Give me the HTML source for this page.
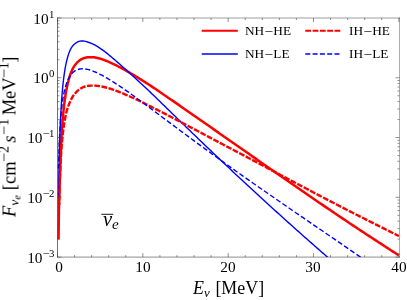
<!DOCTYPE html>
<html><head><meta charset="utf-8"><title>plot</title>
<style>
html,body{margin:0;padding:0;background:#fff;}
body{width:407px;height:300px;position:relative;overflow:hidden;font-family:"Liberation Serif",serif;color:#000;}
.t{position:absolute;white-space:nowrap;line-height:1;will-change:transform;}
.yt{font-size:15.3px;text-align:right;width:60px;}
.yt sup{font-size:10.8px;vertical-align:baseline;position:relative;top:-5.6px;left:0.3px;line-height:0;}
.xt{font-size:15.3px;text-align:center;width:40px;}
.lg{font-size:13.3px;}
.lg i{font-style:normal;margin:0 1.05px 0 0.6px;display:inline-block;transform:translateY(0.8px) scaleX(1.16);}
.m{display:inline-block;transform:scaleX(1.16);}
</style></head><body>
<svg width="407" height="300" viewBox="0 0 407 300" style="position:absolute;left:0;top:0">
<defs><clipPath id="c"><rect x="56.90" y="18.00" width="342.60" height="239.10"/></clipPath></defs>
<g stroke="#383838" fill="none" stroke-linecap="square">
<path d="M57.50,18.00V257.10" stroke-width="0.72"/>
<path d="M399.50,18.00V257.10" stroke-width="0.42"/>
<path d="M57.50,18.00H399.50" stroke-width="0.5"/>
<path d="M57.50,257.10H399.50" stroke-width="0.58"/>
</g>
<g clip-path="url(#c)" fill="none" stroke-linejoin="round">
<path d="M58.55,239.49 L58.57,237.37 L58.60,235.26 L58.62,233.15 L58.65,231.05 L58.67,228.95 L58.70,226.86 L58.73,224.78 L58.76,222.70 L58.79,220.63 L58.82,218.57 L58.85,216.51 L58.88,214.47 L58.91,212.42 L58.94,210.39 L58.98,208.36 L59.02,206.34 L59.06,204.33 L59.11,202.33 L59.16,200.33 L59.21,198.34 L59.27,196.36 L59.33,194.38 L59.39,192.42 L59.45,190.46 L59.51,188.51 L59.57,186.57 L59.64,184.64 L59.70,182.71 L59.77,180.79 L59.83,178.89 L59.89,176.99 L59.96,175.10 L60.02,173.22 L60.08,171.35 L60.14,169.49 L60.19,167.63 L60.26,165.79 L60.32,163.96 L60.38,162.13 L60.45,160.32 L60.51,158.52 L60.58,156.72 L60.65,154.94 L60.73,153.16 L60.80,151.40 L60.88,149.65 L60.96,147.91 L61.04,146.18 L61.12,144.46 L61.20,142.75 L61.29,141.05 L61.38,139.36 L61.47,137.69 L61.57,136.03 L61.66,134.37 L61.76,132.74 L61.87,131.11 L61.97,129.49 L62.08,127.89 L62.19,126.30 L62.30,124.72 L62.42,123.16 L62.54,121.61 L62.66,120.07 L62.79,118.54 L62.91,117.03 L63.05,115.53 L63.18,114.05 L63.32,112.58 L63.47,111.12 L63.61,109.68 L63.76,108.25 L63.92,106.83 L64.08,105.44 L64.24,104.05 L64.41,102.68 L64.58,101.36 L64.76,100.05 L64.94,98.76 L65.12,97.48 L65.31,96.22 L65.51,94.98 L65.71,93.76 L65.92,92.55 L66.13,91.36 L66.34,90.19 L66.57,89.03 L66.80,87.90 L67.03,86.78 L67.27,85.68 L67.52,84.61 L67.76,83.55 L68.01,82.51 L68.27,81.48 L68.52,80.48 L68.79,79.50 L69.05,78.54 L69.33,77.60 L69.61,76.69 L69.90,75.79 L70.19,74.91 L70.50,74.02 L70.82,73.15 L71.14,72.30 L71.48,71.47 L71.82,70.66 L72.18,69.88 L72.55,69.12 L72.93,68.37 L73.32,67.66 L73.73,66.96 L74.15,66.29 L74.58,65.64 L75.65,64.21 L76.73,62.94 L77.82,61.83 L78.90,60.88 L79.99,60.07 L81.07,59.39 L82.16,58.82 L83.24,58.35 L84.33,57.97 L85.41,57.67 L86.50,57.44 L87.58,57.28 L88.66,57.19 L89.75,57.14 L90.83,57.13 L91.92,57.16 L93.00,57.23 L94.09,57.34 L95.17,57.49 L96.26,57.68 L97.34,57.92 L98.42,58.19 L99.51,58.49 L100.59,58.81 L101.68,59.16 L102.76,59.53 L103.85,59.92 L104.93,60.33 L106.02,60.76 L107.10,61.20 L108.18,61.65 L109.27,62.11 L110.35,62.58 L111.44,63.07 L112.52,63.57 L113.61,64.09 L114.69,64.61 L115.78,65.15 L116.86,65.69 L117.94,66.25 L119.03,66.81 L120.11,67.38 L121.20,67.96 L122.28,68.54 L123.37,69.14 L124.45,69.74 L125.54,70.34 L126.62,70.95 L127.70,71.57 L128.79,72.20 L129.87,72.83 L130.96,73.46 L132.04,74.10 L133.13,74.75 L134.21,75.41 L135.30,76.07 L136.38,76.74 L137.46,77.40 L138.55,78.08 L139.63,78.75 L140.72,79.43 L141.80,80.11 L142.89,80.80 L143.97,81.49 L145.06,82.18 L146.14,82.87 L147.22,83.57 L148.31,84.26 L149.39,84.96 L150.48,85.67 L151.56,86.40 L152.65,87.12 L153.73,87.85 L154.82,88.57 L155.90,89.30 L156.99,90.04 L158.07,90.77 L159.15,91.50 L160.24,92.24 L161.32,92.97 L162.41,93.71 L163.49,94.45 L164.58,95.19 L165.66,95.93 L166.75,96.68 L167.83,97.42 L168.91,98.17 L170.00,98.91 L171.08,99.66 L172.17,100.40 L173.25,101.15 L174.34,101.90 L175.42,102.65 L176.51,103.40 L177.59,104.15 L178.67,104.90 L179.76,105.65 L180.84,106.41 L181.93,107.16 L183.01,107.91 L184.10,108.67 L185.18,109.42 L186.27,110.17 L187.35,110.93 L188.43,111.68 L189.52,112.44 L190.60,113.20 L191.69,113.95 L192.77,114.71 L193.86,115.46 L194.94,116.22 L196.03,116.98 L197.11,117.74 L198.19,118.49 L199.28,119.25 L200.36,120.01 L201.45,120.77 L202.53,121.52 L203.62,122.28 L204.70,123.04 L205.79,123.80 L206.87,124.56 L207.95,125.31 L209.04,126.07 L210.12,126.83 L211.21,127.59 L212.29,128.35 L213.38,129.11 L214.46,129.86 L215.55,130.62 L216.63,131.38 L217.71,132.14 L218.80,132.90 L219.88,133.66 L220.97,134.41 L222.05,135.17 L223.14,135.93 L224.22,136.69 L225.31,137.44 L226.39,138.20 L227.48,138.96 L228.56,139.72 L229.64,140.47 L230.73,141.23 L231.81,141.99 L232.90,142.74 L233.98,143.50 L235.07,144.26 L236.15,145.01 L237.24,145.77 L238.32,146.52 L239.40,147.28 L240.49,148.03 L241.57,148.79 L242.66,149.54 L243.74,150.30 L244.83,151.05 L245.91,151.81 L247.00,152.56 L248.08,153.32 L249.16,154.07 L250.25,154.83 L251.33,155.59 L252.42,156.35 L253.50,157.11 L254.59,157.87 L255.67,158.63 L256.76,159.39 L257.84,160.15 L258.92,160.91 L260.01,161.67 L261.09,162.42 L262.18,163.18 L263.26,163.94 L264.35,164.70 L265.43,165.46 L266.52,166.21 L267.60,166.97 L268.68,167.73 L269.77,168.48 L270.85,169.24 L271.94,170.00 L273.02,170.75 L274.11,171.51 L275.19,172.26 L276.28,173.02 L277.36,173.77 L278.44,174.52 L279.53,175.28 L280.61,176.03 L281.70,176.78 L282.78,177.54 L283.87,178.29 L284.95,179.04 L286.04,179.79 L287.12,180.55 L288.20,181.30 L289.29,182.05 L290.37,182.80 L291.46,183.55 L292.54,184.30 L293.63,185.05 L294.71,185.80 L295.80,186.54 L296.88,187.29 L297.97,188.04 L299.05,188.79 L300.13,189.54 L301.22,190.28 L302.30,191.03 L303.39,191.78 L304.47,192.52 L305.56,193.27 L306.64,194.01 L307.73,194.76 L308.81,195.50 L309.89,196.25 L310.98,196.99 L312.06,197.73 L313.15,198.48 L314.23,199.22 L315.32,199.96 L316.40,200.70 L317.49,201.44 L318.57,202.18 L319.65,202.92 L320.74,203.66 L321.82,204.40 L322.91,205.14 L323.99,205.88 L325.08,206.62 L326.16,207.36 L327.25,208.09 L328.33,208.83 L329.41,209.57 L330.50,210.30 L331.58,211.04 L332.67,211.77 L333.75,212.51 L334.84,213.24 L335.92,213.98 L337.01,214.71 L338.09,215.44 L339.17,216.18 L340.26,216.91 L341.34,217.64 L342.43,218.37 L343.51,219.10 L344.60,219.83 L345.68,220.56 L346.77,221.29 L347.85,222.02 L348.93,222.75 L350.02,223.48 L351.10,224.20 L352.19,224.91 L353.27,225.63 L354.36,226.35 L355.44,227.06 L356.53,227.78 L357.61,228.50 L358.69,229.21 L359.78,229.93 L360.86,230.64 L361.95,231.35 L363.03,232.07 L364.12,232.78 L365.20,233.49 L366.29,234.20 L367.37,234.92 L368.46,235.63 L369.54,236.34 L370.62,237.05 L371.71,237.76 L372.79,238.46 L373.88,239.17 L374.96,239.88 L376.05,240.59 L377.13,241.29 L378.22,242.00 L379.30,242.71 L380.38,243.41 L381.47,244.12 L382.55,244.82 L383.64,245.52 L384.72,246.23 L385.81,246.93 L386.89,247.63 L387.98,248.33 L389.06,249.03 L390.14,249.74 L391.23,250.44 L392.31,251.13 L393.40,251.83 L394.48,252.53 L395.57,253.23 L396.65,253.93 L397.74,254.62 L398.82,255.32" stroke="#f00" stroke-width="2.5"/>
<path d="M58.52,197.86 L58.55,195.99 L58.57,194.13 L58.60,192.27 L58.63,190.42 L58.65,188.57 L58.68,186.73 L58.71,184.90 L58.74,183.07 L58.77,181.25 L58.80,179.43 L58.83,177.63 L58.86,175.82 L58.89,174.03 L58.93,172.24 L58.96,170.46 L58.99,168.69 L59.03,166.92 L59.07,165.16 L59.10,163.40 L59.14,161.66 L59.18,159.92 L59.22,158.19 L59.26,156.46 L59.31,154.74 L59.35,153.04 L59.39,151.33 L59.44,149.64 L59.49,147.96 L59.53,146.28 L59.58,144.61 L59.63,142.95 L59.68,141.29 L59.73,139.65 L59.79,138.01 L59.84,136.38 L59.90,134.76 L59.96,133.15 L60.01,131.55 L60.07,129.96 L60.14,128.38 L60.20,126.80 L60.26,125.24 L60.33,123.68 L60.40,122.13 L60.47,120.60 L60.54,119.07 L60.61,117.55 L60.69,116.05 L60.76,114.55 L60.84,113.06 L60.92,111.59 L61.00,110.12 L61.08,108.66 L61.17,107.22 L61.26,105.78 L61.35,104.36 L61.44,102.95 L61.53,101.55 L61.63,100.16 L61.73,98.78 L61.83,97.41 L61.93,96.06 L62.04,94.71 L62.15,93.38 L62.26,92.06 L62.37,90.75 L62.49,89.46 L62.61,88.18 L62.73,86.91 L62.86,85.65 L62.99,84.40 L63.12,83.17 L63.25,81.96 L63.39,80.75 L63.53,79.56 L63.67,78.38 L63.82,77.22 L63.97,76.07 L64.13,74.93 L64.29,73.81 L64.45,72.71 L64.62,71.61 L64.79,70.54 L64.96,69.48 L65.14,68.43 L65.32,67.40 L65.51,66.38 L65.70,65.38 L65.90,64.40 L66.10,63.43 L66.30,62.48 L66.51,61.54 L66.73,60.62 L66.95,59.72 L67.18,58.83 L67.41,57.96 L67.64,57.11 L67.89,56.28 L68.14,55.47 L68.39,54.67 L68.65,53.89 L68.92,53.13 L69.19,52.38 L69.47,51.66 L69.76,50.96 L70.05,50.28 L70.35,49.66 L70.66,49.07 L70.97,48.50 L71.30,47.94 L71.63,47.41 L71.96,46.90 L72.31,46.42 L72.66,45.95 L73.03,45.51 L73.40,45.09 L73.78,44.70 L74.17,44.33 L74.57,43.98 L75.65,43.19 L76.73,42.47 L77.82,41.87 L78.90,41.43 L79.99,41.12 L81.07,40.93 L82.16,40.91 L83.24,40.99 L84.33,41.15 L85.41,41.39 L86.50,41.66 L87.58,41.97 L88.66,42.33 L89.75,42.74 L90.83,43.20 L91.92,43.65 L93.00,44.13 L94.09,44.64 L95.17,45.19 L96.26,45.79 L97.34,46.45 L98.42,47.14 L99.51,47.86 L100.59,48.59 L101.68,49.35 L102.76,50.13 L103.85,50.93 L104.93,51.74 L106.02,52.57 L107.10,53.42 L108.18,54.30 L109.27,55.19 L110.35,56.10 L111.44,57.01 L112.52,57.94 L113.61,58.88 L114.69,59.83 L115.78,60.76 L116.86,61.68 L117.94,62.62 L119.03,63.56 L120.11,64.51 L121.20,65.47 L122.28,66.43 L123.37,67.40 L124.45,68.37 L125.54,69.34 L126.62,70.31 L127.70,71.28 L128.79,72.25 L129.87,73.23 L130.96,74.21 L132.04,75.20 L133.13,76.19 L134.21,77.18 L135.30,78.17 L136.38,79.17 L137.46,80.17 L138.55,81.17 L139.63,82.17 L140.72,83.18 L141.80,84.20 L142.89,85.22 L143.97,86.24 L145.06,87.25 L146.14,88.28 L147.22,89.30 L148.31,90.32 L149.39,91.35 L150.48,92.37 L151.56,93.40 L152.65,94.44 L153.73,95.49 L154.82,96.55 L155.90,97.60 L156.99,98.66 L158.07,99.72 L159.15,100.77 L160.24,101.83 L161.32,102.89 L162.41,103.94 L163.49,105.00 L164.58,106.06 L165.66,107.11 L166.75,108.17 L167.83,109.23 L168.91,110.28 L170.00,111.34 L171.08,112.40 L172.17,113.45 L173.25,114.51 L174.34,115.56 L175.42,116.62 L176.51,117.67 L177.59,118.73 L178.67,119.78 L179.76,120.84 L180.84,121.89 L181.93,122.94 L183.01,123.99 L184.10,125.05 L185.18,126.10 L186.27,127.15 L187.35,128.20 L188.43,129.25 L189.52,130.30 L190.60,131.34 L191.69,132.39 L192.77,133.44 L193.86,134.48 L194.94,135.53 L196.03,136.58 L197.11,137.62 L198.19,138.66 L199.28,139.71 L200.36,140.75 L201.45,141.79 L202.53,142.83 L203.62,143.87 L204.70,144.91 L205.79,145.95 L206.87,146.98 L207.95,148.02 L209.04,149.06 L210.12,150.09 L211.21,151.13 L212.29,152.16 L213.38,153.19 L214.46,154.22 L215.55,155.26 L216.63,156.29 L217.71,157.32 L218.80,158.34 L219.88,159.37 L220.97,160.40 L222.05,161.42 L223.14,162.45 L224.22,163.47 L225.31,164.50 L226.39,165.52 L227.48,166.54 L228.56,167.56 L229.64,168.58 L230.73,169.60 L231.81,170.62 L232.90,171.64 L233.98,172.66 L235.07,173.67 L236.15,174.69 L237.24,175.70 L238.32,176.71 L239.40,177.73 L240.49,178.74 L241.57,179.75 L242.66,180.76 L243.74,181.77 L244.83,182.78 L245.91,183.78 L247.00,184.79 L248.08,185.80 L249.16,186.80 L250.25,187.80 L251.33,188.81 L252.42,189.81 L253.50,190.81 L254.59,191.81 L255.67,192.81 L256.76,193.81 L257.84,194.81 L258.92,195.80 L260.01,196.80 L261.09,197.79 L262.18,198.79 L263.26,199.78 L264.35,200.77 L265.43,201.77 L266.52,202.76 L267.60,203.75 L268.68,204.74 L269.77,205.72 L270.85,206.71 L271.94,207.70 L273.02,208.68 L274.11,209.67 L275.19,210.65 L276.28,211.64 L277.36,212.62 L278.44,213.60 L279.53,214.58 L280.61,215.56 L281.70,216.54 L282.78,217.52 L283.87,218.49 L284.95,219.47 L286.04,220.44 L287.12,221.42 L288.20,222.39 L289.29,223.37 L290.37,224.34 L291.46,225.31 L292.54,226.28 L293.63,227.25 L294.71,228.22 L295.80,229.19 L296.88,230.15 L297.97,231.12 L299.05,232.08 L300.13,233.05 L301.22,234.01 L302.30,234.98 L303.39,235.94 L304.47,236.90 L305.56,237.86 L306.64,238.82 L307.73,239.78 L308.81,240.74 L309.89,241.69 L310.98,242.65 L312.06,243.60 L313.15,244.56 L314.23,245.51 L315.32,246.47 L316.40,247.42 L317.49,248.37 L318.57,249.32 L319.65,250.27 L320.74,251.22 L321.82,252.17 L322.91,253.12 L323.99,254.06 L325.08,255.01 L326.16,255.95 L327.25,256.90 L328.33,257.84 L329.41,258.78 L330.50,259.72 L331.58,260.67 L332.67,261.61 L333.75,262.54 L334.84,263.48 L335.92,264.42 L337.01,265.36 L338.09,266.29 L339.17,267.23 L340.26,268.16 L341.34,269.10 L342.43,270.03 L343.51,270.96 L344.60,271.89 L345.68,272.83 L346.77,273.75 L347.85,274.68 L348.93,275.61 L350.02,276.54 L351.10,277.47 L352.19,278.39 L353.27,279.32 L354.36,280.24 L355.44,281.17 L356.53,282.09 L357.61,283.01 L358.69,283.93 L359.78,284.85 L360.86,285.77 L361.95,286.69 L363.03,287.61 L364.12,288.53 L365.20,289.44 L366.29,290.36 L367.37,291.27 L368.46,292.19 L369.54,293.10 L370.62,294.01 L371.71,294.92 L372.79,295.84 L373.88,296.75 L374.96,297.65 L376.05,298.56 L377.13,299.47 L378.22,300.38 L379.30,301.29 L380.38,302.19 L381.47,303.10 L382.55,304.00 L383.64,304.90 L384.72,305.81 L385.81,306.71 L386.89,307.61 L387.98,308.51 L389.06,309.41 L390.14,310.31 L391.23,311.20 L392.31,312.10 L393.40,313.00 L394.48,313.89 L395.57,314.79 L396.65,315.68 L397.74,316.58 L398.82,317.47" stroke="#00f" stroke-width="1.4"/>
<path d="M59.22,205.28 L59.25,204.05 L59.27,202.82 L59.30,201.59 L59.33,200.37 L59.35,199.14 L59.38,197.92 L59.41,196.71 L59.44,195.49 L59.47,194.28 L59.50,193.07 L59.53,191.87 L59.56,190.67 L59.59,189.47 L59.63,188.27 L59.66,187.08 L59.69,185.89 L59.73,184.71 L59.77,183.52 L59.80,182.34 L59.84,181.17 L59.88,180.00 L59.92,178.83 L59.96,177.66 L60.01,176.50 L60.05,175.34 L60.09,174.19 L60.14,173.04 L60.19,171.89 L60.23,170.75 L60.28,169.61 L60.33,168.48 L60.38,167.34 L60.43,166.22 L60.49,165.09 L60.54,163.98 L60.60,162.86 L60.66,161.75 L60.71,160.65 L60.77,159.54 L60.84,158.45 L60.90,157.35 L60.96,156.27 L61.03,155.18 L61.10,154.10 L61.17,153.03 L61.24,151.96 L61.31,150.90 L61.39,149.84 L61.46,148.78 L61.54,147.73 L61.62,146.69 L61.70,145.65 L61.78,144.62 L61.87,143.59 L61.96,142.56 L62.05,141.55 L62.14,140.53 L62.23,139.53 L62.33,138.53 L62.43,137.53 L62.53,136.54 L62.63,135.56 L62.74,134.58 L62.85,133.61 L62.96,132.65 L63.07,131.69 L63.19,130.73 L63.31,129.79 L63.43,128.85 L63.56,127.91 L63.69,126.99 L63.82,126.07 L63.95,125.16 L64.09,124.25 L64.23,123.35 L64.37,122.46 L64.52,121.57 L64.67,120.70 L64.83,119.83 L64.99,118.96 L65.15,118.11 L65.32,117.26 L65.49,116.42 L65.66,115.59 L65.84,114.77 L66.02,113.95 L66.21,113.15 L66.40,112.35 L66.60,111.56 L66.80,110.80 L67.00,110.09 L67.21,109.39 L67.43,108.70 L67.65,108.02 L67.88,107.35 L68.11,106.69 L68.34,106.05 L68.59,105.41 L68.83,104.79 L69.07,104.18 L69.31,103.57 L69.55,102.99 L69.79,102.41 L70.04,101.84 L70.29,101.29 L70.54,100.75 L70.80,100.23 L71.06,99.71 L71.34,99.22 L71.62,98.64 L71.91,98.07 L72.21,97.51 L72.52,96.96 L72.84,96.43 L73.17,95.90 L73.51,95.39 L73.87,94.89 L74.24,94.40 L74.62,93.93 L75.66,92.76 L76.74,91.66 L77.82,90.66 L78.90,89.78 L79.99,89.01 L81.07,88.32 L82.16,87.73 L83.24,87.20 L84.33,86.75 L85.41,86.35 L86.50,86.07 L87.58,85.89 L88.66,85.76 L89.75,85.68 L90.83,85.63 L91.92,85.59 L93.00,85.57 L94.09,85.58 L95.17,85.63 L96.26,85.70 L97.34,85.82 L98.42,85.96 L99.51,86.13 L100.59,86.31 L101.68,86.52 L102.76,86.74 L103.85,86.98 L104.93,87.24 L106.02,87.51 L107.10,87.79 L108.18,88.09 L109.27,88.41 L110.35,88.74 L111.44,89.10 L112.52,89.47 L113.61,89.85 L114.69,90.24 L115.78,90.64 L116.86,91.05 L117.94,91.46 L119.03,91.89 L120.11,92.32 L121.20,92.76 L122.28,93.21 L123.37,93.66 L124.45,94.12 L125.54,94.58 L126.62,95.05 L127.70,95.53 L128.79,96.01 L129.87,96.49 L130.96,96.98 L132.04,97.47 L133.13,97.97 L134.21,98.47 L135.30,98.98 L136.38,99.49 L137.46,100.00 L138.55,100.52 L139.63,101.04 L140.72,101.56 L141.80,102.08 L142.89,102.61 L143.97,103.14 L145.06,103.68 L146.14,104.21 L147.22,104.75 L148.31,105.29 L149.39,105.83 L150.48,106.37 L151.56,106.92 L152.65,107.47 L153.73,108.02 L154.82,108.57 L155.90,109.12 L156.99,109.67 L158.07,110.23 L159.15,110.78 L160.24,111.34 L161.32,111.90 L162.41,112.46 L163.49,113.02 L164.58,113.58 L165.66,114.15 L166.75,114.71 L167.83,115.28 L168.91,115.84 L170.00,116.41 L171.08,116.98 L172.17,117.54 L173.25,118.11 L174.34,118.68 L175.42,119.25 L176.51,119.82 L177.59,120.39 L178.67,120.97 L179.76,121.54 L180.84,122.11 L181.93,122.68 L183.01,123.26 L184.10,123.83 L185.18,124.40 L186.27,124.98 L187.35,125.55 L188.43,126.13 L189.52,126.70 L190.60,127.28 L191.69,127.85 L192.77,128.43 L193.86,129.00 L194.94,129.58 L196.03,130.15 L197.11,130.73 L198.19,131.31 L199.28,131.88 L200.36,132.46 L201.45,133.03 L202.53,133.61 L203.62,134.19 L204.70,134.76 L205.79,135.34 L206.87,135.91 L207.95,136.49 L209.04,137.07 L210.12,137.64 L211.21,138.22 L212.29,138.79 L213.38,139.37 L214.46,139.94 L215.55,140.52 L216.63,141.09 L217.71,141.67 L218.80,142.24 L219.88,142.82 L220.97,143.39 L222.05,143.97 L223.14,144.54 L224.22,145.12 L225.31,145.69 L226.39,146.26 L227.48,146.84 L228.56,147.41 L229.64,147.98 L230.73,148.55 L231.81,149.13 L232.90,149.70 L233.98,150.27 L235.07,150.84 L236.15,151.42 L237.24,151.99 L238.32,152.56 L239.40,153.13 L240.49,153.70 L241.57,154.27 L242.66,154.84 L243.74,155.41 L244.83,155.98 L245.91,156.55 L247.00,157.12 L248.08,157.69 L249.16,158.26 L250.25,158.83 L251.33,159.41 L252.42,159.99 L253.50,160.57 L254.59,161.15 L255.67,161.73 L256.76,162.31 L257.84,162.89 L258.92,163.47 L260.01,164.05 L261.09,164.63 L262.18,165.21 L263.26,165.79 L264.35,166.37 L265.43,166.95 L266.52,167.52 L267.60,168.10 L268.68,168.68 L269.77,169.26 L270.85,169.83 L271.94,170.41 L273.02,170.99 L274.11,171.56 L275.19,172.14 L276.28,172.71 L277.36,173.29 L278.44,173.86 L279.53,174.44 L280.61,175.01 L281.70,175.59 L282.78,176.16 L283.87,176.74 L284.95,177.31 L286.04,177.88 L287.12,178.46 L288.20,179.03 L289.29,179.60 L290.37,180.18 L291.46,180.75 L292.54,181.33 L293.63,181.91 L294.71,182.48 L295.80,183.06 L296.88,183.63 L297.97,184.21 L299.05,184.79 L300.13,185.36 L301.22,185.94 L302.30,186.51 L303.39,187.08 L304.47,187.66 L305.56,188.23 L306.64,188.81 L307.73,189.38 L308.81,189.95 L309.89,190.53 L310.98,191.10 L312.06,191.67 L313.15,192.25 L314.23,192.82 L315.32,193.39 L316.40,193.96 L317.49,194.54 L318.57,195.11 L319.65,195.68 L320.74,196.25 L321.82,196.81 L322.91,197.37 L323.99,197.94 L325.08,198.50 L326.16,199.07 L327.25,199.63 L328.33,200.19 L329.41,200.76 L330.50,201.32 L331.58,201.88 L332.67,202.45 L333.75,203.01 L334.84,203.57 L335.92,204.13 L337.01,204.70 L338.09,205.26 L339.17,205.82 L340.26,206.39 L341.34,206.95 L342.43,207.51 L343.51,208.07 L344.60,208.63 L345.68,209.20 L346.77,209.76 L347.85,210.32 L348.93,210.88 L350.02,211.44 L351.10,211.99 L352.19,212.54 L353.27,213.08 L354.36,213.63 L355.44,214.18 L356.53,214.72 L357.61,215.27 L358.69,215.82 L359.78,216.36 L360.86,216.91 L361.95,217.45 L363.03,218.00 L364.12,218.55 L365.20,219.09 L366.29,219.64 L367.37,220.19 L368.46,220.73 L369.54,221.28 L370.62,221.83 L371.71,222.37 L372.79,222.92 L373.88,223.47 L374.96,224.01 L376.05,224.56 L377.13,225.11 L378.22,225.65 L379.30,226.20 L380.38,226.75 L381.47,227.29 L382.55,227.84 L383.64,228.39 L384.72,228.93 L385.81,229.48 L386.89,230.03 L387.98,230.58 L389.06,231.12 L390.14,231.67 L391.23,232.22 L392.31,232.77 L393.40,233.32 L394.48,233.86 L395.57,234.41 L396.65,234.96 L397.74,235.51 L398.82,236.06" stroke="#f00" stroke-width="2.4" stroke-dasharray="5.8 1.5" stroke-dashoffset="2.8"/>
<path d="M58.52,168.24 L58.55,167.12 L58.57,166.00 L58.60,164.88 L58.63,163.77 L58.65,162.66 L58.68,161.55 L58.71,160.44 L58.74,159.34 L58.77,158.24 L58.80,157.15 L58.83,156.05 L58.86,154.96 L58.89,153.87 L58.93,152.79 L58.96,151.71 L58.99,150.63 L59.03,149.56 L59.07,148.49 L59.10,147.42 L59.14,146.36 L59.18,145.30 L59.22,144.24 L59.26,143.19 L59.31,142.14 L59.35,141.09 L59.39,140.05 L59.44,139.01 L59.49,137.98 L59.53,136.95 L59.58,135.92 L59.63,134.90 L59.68,133.88 L59.73,132.87 L59.79,131.86 L59.84,130.85 L59.90,129.85 L59.96,128.85 L60.01,127.86 L60.07,126.88 L60.14,125.90 L60.20,124.92 L60.26,123.95 L60.33,122.98 L60.40,122.02 L60.47,121.07 L60.54,120.12 L60.61,119.17 L60.69,118.23 L60.76,117.29 L60.84,116.36 L60.92,115.44 L61.00,114.52 L61.08,113.61 L61.17,112.70 L61.26,111.80 L61.35,110.90 L61.44,110.01 L61.53,109.13 L61.63,108.25 L61.73,107.38 L61.83,106.51 L61.93,105.65 L62.04,104.80 L62.15,103.96 L62.26,103.12 L62.37,102.29 L62.49,101.46 L62.61,100.64 L62.73,99.83 L62.86,99.03 L62.99,98.23 L63.12,97.44 L63.25,96.66 L63.39,95.89 L63.53,95.12 L63.67,94.36 L63.82,93.62 L63.97,92.87 L64.13,92.14 L64.29,91.42 L64.45,90.70 L64.62,89.99 L64.79,89.29 L64.96,88.60 L65.14,87.92 L65.32,87.25 L65.51,86.59 L65.70,85.94 L65.90,85.29 L66.10,84.66 L66.30,84.04 L66.51,83.42 L66.73,82.82 L66.95,82.23 L67.18,81.65 L67.41,81.08 L67.64,80.52 L67.89,79.97 L68.14,79.43 L68.39,78.90 L68.65,78.39 L68.92,77.89 L69.19,77.40 L69.47,76.92 L69.76,76.45 L70.05,76.00 L70.35,75.54 L70.66,75.10 L70.97,74.68 L71.30,74.26 L71.63,73.86 L71.96,73.47 L72.31,73.10 L72.66,72.74 L73.03,72.39 L73.40,72.06 L73.78,71.75 L74.17,71.44 L74.57,71.16 L75.65,70.48 L76.73,69.94 L77.82,69.53 L78.90,69.22 L79.99,69.00 L81.07,68.87 L82.16,68.81 L83.24,68.82 L84.33,68.89 L85.41,69.02 L86.50,69.20 L87.58,69.43 L88.66,69.69 L89.75,70.00 L90.83,70.34 L91.92,70.71 L93.00,71.11 L94.09,71.55 L95.17,72.00 L96.26,72.48 L97.34,72.99 L98.42,73.51 L99.51,74.05 L100.59,74.60 L101.68,75.17 L102.76,75.74 L103.85,76.34 L104.93,76.94 L106.02,77.56 L107.10,78.19 L108.18,78.83 L109.27,79.48 L110.35,80.14 L111.44,80.81 L112.52,81.49 L113.61,82.18 L114.69,82.87 L115.78,83.58 L116.86,84.29 L117.94,85.00 L119.03,85.72 L120.11,86.45 L121.20,87.18 L122.28,87.91 L123.37,88.66 L124.45,89.40 L125.54,90.15 L126.62,90.90 L127.70,91.66 L128.79,92.42 L129.87,93.18 L130.96,93.96 L132.04,94.74 L133.13,95.53 L134.21,96.32 L135.30,97.11 L136.38,97.90 L137.46,98.70 L138.55,99.49 L139.63,100.29 L140.72,101.09 L141.80,101.89 L142.89,102.69 L143.97,103.50 L145.06,104.30 L146.14,105.11 L147.22,105.91 L148.31,106.72 L149.39,107.53 L150.48,108.34 L151.56,109.14 L152.65,109.95 L153.73,110.76 L154.82,111.57 L155.90,112.39 L156.99,113.20 L158.07,114.01 L159.15,114.82 L160.24,115.63 L161.32,116.44 L162.41,117.25 L163.49,118.07 L164.58,118.88 L165.66,119.69 L166.75,120.50 L167.83,121.31 L168.91,122.12 L170.00,122.93 L171.08,123.74 L172.17,124.55 L173.25,125.36 L174.34,126.17 L175.42,126.98 L176.51,127.79 L177.59,128.60 L178.67,129.40 L179.76,130.21 L180.84,131.02 L181.93,131.82 L183.01,132.63 L184.10,133.43 L185.18,134.24 L186.27,135.04 L187.35,135.84 L188.43,136.64 L189.52,137.45 L190.60,138.25 L191.69,139.05 L192.77,139.85 L193.86,140.65 L194.94,141.44 L196.03,142.24 L197.11,143.04 L198.19,143.83 L199.28,144.63 L200.36,145.42 L201.45,146.22 L202.53,147.01 L203.62,147.80 L204.70,148.60 L205.79,149.39 L206.87,150.18 L207.95,150.97 L209.04,151.75 L210.12,152.54 L211.21,153.33 L212.29,154.12 L213.38,154.90 L214.46,155.69 L215.55,156.47 L216.63,157.25 L217.71,158.04 L218.80,158.82 L219.88,159.60 L220.97,160.38 L222.05,161.16 L223.14,161.94 L224.22,162.72 L225.31,163.49 L226.39,164.27 L227.48,165.04 L228.56,165.82 L229.64,166.59 L230.73,167.37 L231.81,168.14 L232.90,168.91 L233.98,169.68 L235.07,170.45 L236.15,171.23 L237.24,171.99 L238.32,172.76 L239.40,173.53 L240.49,174.30 L241.57,175.07 L242.66,175.83 L243.74,176.60 L244.83,177.36 L245.91,178.12 L247.00,178.89 L248.08,179.65 L249.16,180.41 L250.25,181.17 L251.33,181.94 L252.42,182.70 L253.50,183.46 L254.59,184.21 L255.67,184.97 L256.76,185.73 L257.84,186.49 L258.92,187.25 L260.01,188.00 L261.09,188.76 L262.18,189.51 L263.26,190.27 L264.35,191.02 L265.43,191.78 L266.52,192.53 L267.60,193.28 L268.68,194.03 L269.77,194.79 L270.85,195.54 L271.94,196.29 L273.02,197.04 L274.11,197.79 L275.19,198.54 L276.28,199.29 L277.36,200.04 L278.44,200.79 L279.53,201.53 L280.61,202.28 L281.70,203.03 L282.78,203.78 L283.87,204.52 L284.95,205.27 L286.04,206.02 L287.12,206.76 L288.20,207.51 L289.29,208.25 L290.37,209.00 L291.46,209.74 L292.54,210.49 L293.63,211.23 L294.71,211.97 L295.80,212.72 L296.88,213.46 L297.97,214.20 L299.05,214.95 L300.13,215.69 L301.22,216.43 L302.30,217.18 L303.39,217.92 L304.47,218.66 L305.56,219.40 L306.64,220.15 L307.73,220.89 L308.81,221.63 L309.89,222.37 L310.98,223.11 L312.06,223.86 L313.15,224.60 L314.23,225.34 L315.32,226.08 L316.40,226.82 L317.49,227.56 L318.57,228.31 L319.65,229.05 L320.74,229.79 L321.82,230.53 L322.91,231.27 L323.99,232.02 L325.08,232.76 L326.16,233.50 L327.25,234.24 L328.33,234.99 L329.41,235.73 L330.50,236.47 L331.58,237.21 L332.67,237.96 L333.75,238.70 L334.84,239.44 L335.92,240.19 L337.01,240.93 L338.09,241.68 L339.17,242.42 L340.26,243.17 L341.34,243.91 L342.43,244.66 L343.51,245.40 L344.60,246.15 L345.68,246.89 L346.77,247.64 L347.85,248.39 L348.93,249.13 L350.02,249.88 L351.10,250.63 L352.19,251.38 L353.27,252.13 L354.36,252.88 L355.44,253.63 L356.53,254.38 L357.61,255.13 L358.69,255.88 L359.78,256.63 L360.86,257.38 L361.95,258.13 L363.03,258.89 L364.12,259.64 L365.20,260.39 L366.29,261.15 L367.37,261.90 L368.46,262.66 L369.54,263.42 L370.62,264.17 L371.71,264.93 L372.79,265.69 L373.88,266.45 L374.96,267.21 L376.05,267.97 L377.13,268.73 L378.22,269.49 L379.30,270.25 L380.38,271.01 L381.47,271.78 L382.55,272.54 L383.64,273.31 L384.72,274.07 L385.81,274.84 L386.89,275.61 L387.98,276.38 L389.06,277.15 L390.14,277.92 L391.23,278.69 L392.31,279.46 L393.40,280.23 L394.48,281.00 L395.57,281.78 L396.65,282.55 L397.74,283.33 L398.82,284.11" stroke="#00f" stroke-width="1.4" stroke-dasharray="5.05 2.43" stroke-dashoffset="0.64"/>
</g>
<g stroke="#444" stroke-width="0.6" fill="none">
<path d="M57.50,257.10v-4.00M57.50,18.00v4.00M74.57,257.10v-2.00M74.57,18.00v2.00M91.63,257.10v-2.00M91.63,18.00v2.00M108.70,257.10v-2.00M108.70,18.00v2.00M125.76,257.10v-2.00M125.76,18.00v2.00M142.83,257.10v-4.00M142.83,18.00v4.00M159.90,257.10v-2.00M159.90,18.00v2.00M176.96,257.10v-2.00M176.96,18.00v2.00M194.03,257.10v-2.00M194.03,18.00v2.00M211.09,257.10v-2.00M211.09,18.00v2.00M228.16,257.10v-4.00M228.16,18.00v4.00M245.23,257.10v-2.00M245.23,18.00v2.00M262.29,257.10v-2.00M262.29,18.00v2.00M279.36,257.10v-2.00M279.36,18.00v2.00M296.42,257.10v-2.00M296.42,18.00v2.00M313.49,257.10v-4.00M313.49,18.00v4.00M330.56,257.10v-2.00M330.56,18.00v2.00M347.62,257.10v-2.00M347.62,18.00v2.00M364.69,257.10v-2.00M364.69,18.00v2.00M381.75,257.10v-2.00M381.75,18.00v2.00M398.82,257.10v-4.00M398.82,18.00v4.00M57.50,257.10h4.00M399.50,257.10h-4.00M57.50,239.11h2.00M399.50,239.11h-2.00M57.50,228.58h2.00M399.50,228.58h-2.00M57.50,221.11h2.00M399.50,221.11h-2.00M57.50,215.32h2.00M399.50,215.32h-2.00M57.50,210.59h2.00M399.50,210.59h-2.00M57.50,206.58h2.00M399.50,206.58h-2.00M57.50,203.12h2.00M399.50,203.12h-2.00M57.50,200.06h2.00M399.50,200.06h-2.00M57.50,197.32h4.00M399.50,197.32h-4.00M57.50,179.33h2.00M399.50,179.33h-2.00M57.50,168.81h2.00M399.50,168.81h-2.00M57.50,161.34h2.00M399.50,161.34h-2.00M57.50,155.54h2.00M399.50,155.54h-2.00M57.50,150.81h2.00M399.50,150.81h-2.00M57.50,146.81h2.00M399.50,146.81h-2.00M57.50,143.34h2.00M399.50,143.34h-2.00M57.50,140.29h2.00M399.50,140.29h-2.00M57.50,137.55h4.00M399.50,137.55h-4.00M57.50,119.56h2.00M399.50,119.56h-2.00M57.50,109.03h2.00M399.50,109.03h-2.00M57.50,101.56h2.00M399.50,101.56h-2.00M57.50,95.77h2.00M399.50,95.77h-2.00M57.50,91.04h2.00M399.50,91.04h-2.00M57.50,87.03h2.00M399.50,87.03h-2.00M57.50,83.57h2.00M399.50,83.57h-2.00M57.50,80.51h2.00M399.50,80.51h-2.00M57.50,77.78h4.00M399.50,77.78h-4.00M57.50,59.78h2.00M57.50,49.26h2.00M57.50,41.79h2.00M57.50,35.99h2.00M57.50,31.26h2.00M57.50,27.26h2.00M57.50,23.79h2.00M57.50,20.74h2.00M57.50,18.00h4.00"/>
</g>
<g fill="none">
<path d="M201.7,30.8H237.8" stroke="#f00" stroke-width="1.9"/>
<path d="M201.7,54.05H237.8" stroke="#00f" stroke-width="1.4"/>
<path d="M305.3,30.8H340.3" stroke="#f00" stroke-width="1.9" stroke-dasharray="5.8 1.5"/>
<path d="M305.3,54.05H340.3" stroke="#00f" stroke-width="1.4" stroke-dasharray="5 2.3"/>
</g>
<path d="M101.3,214.3H113.3" stroke="#000" stroke-width="0.9"/>
</svg>
<div class="t yt" style="left:-6.4px;top:10.6px">10<sup>1</sup></div>
<div class="t yt" style="left:-6.4px;top:70.4px">10<sup>0</sup></div>
<div class="t yt" style="left:-6.4px;top:130.1px">10<sup><span class="m">−</span>1</sup></div>
<div class="t yt" style="left:-6.4px;top:189.9px">10<sup><span class="m">−</span>2</sup></div>
<div class="t yt" style="left:-6.4px;top:249.7px">10<sup><span class="m">−</span>3</sup></div>
<div class="t xt" style="left:39.1px;top:259.0px">0</div>
<div class="t xt" style="left:122.5px;top:259.0px">10</div>
<div class="t xt" style="left:207.9px;top:259.0px">20</div>
<div class="t xt" style="left:293.2px;top:259.0px">30</div>
<div class="t xt" style="left:378.5px;top:259.0px">40</div>
<div class="t" style="left:193.0px;top:279.6px;font-size:17.9px"><i>E</i><i style="font-size:13px;position:relative;top:2.7px">ν</i><span style="margin-left:5.7px">[MeV]</span></div>
<div class="t" id="yl" style="left:19.3px;top:217.2px;font-size:18.5px;transform-origin:0 0;transform:rotate(-90deg) translate(0,-100%)"><i>F</i><span style="font-size:13.5px;position:relative;top:2.6px"><i>ν</i><i style="font-size:10.5px;position:relative;top:2.2px">e</i></span><span style="margin-left:4.8px">[cm</span><sup class="s" style="margin-left:0.5px"><span class="m">−</span>2</sup><i style="margin-left:3.3px">s</i><sup class="s"><span class="m">−</span>1</sup><span style="margin-left:3.3px">MeV</span><sup class="s" style="margin-left:0.2px"><span class="m">−</span>1</sup><span style="margin-left:-0.6px">]</span></div>
<style>.s{font-size:14px;vertical-align:baseline;position:relative;top:-6.6px;line-height:0;margin-left:2px}</style>
<div class="t lg" style="left:244.7px;top:23.8px">NH<i>−</i>HE</div>
<div class="t lg" style="left:244.7px;top:46.6px">NH<i>−</i>LE</div>
<div class="t lg" style="left:349.4px;top:23.8px">IH<i>−</i>HE</div>
<div class="t lg" style="left:349.4px;top:46.6px">IH<i>−</i>LE</div>
<div class="t" style="left:103.0px;top:209.3px;font-size:20.5px"><i>ν</i><i style="font-size:15px;position:relative;top:3.3px;left:-0.2px">e</i></div>
</body></html>
